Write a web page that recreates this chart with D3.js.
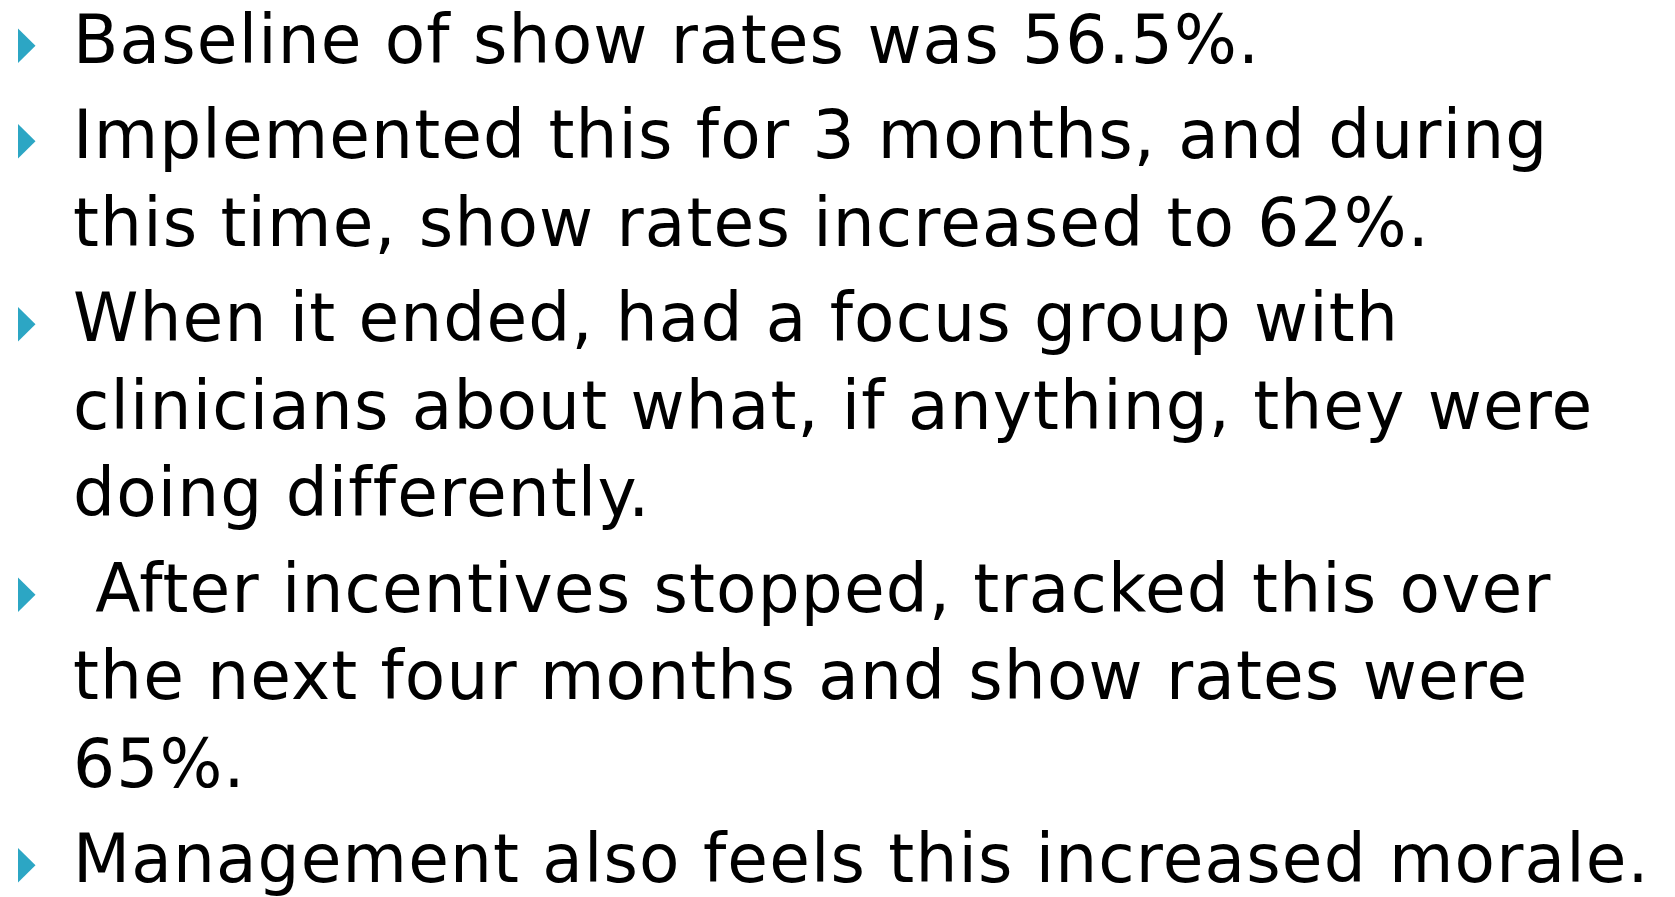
<!DOCTYPE html>
<html>
<head>
<meta charset="utf-8">
<script src="https://cdn.jsdelivr.net/npm/d3@7"></script>
<style>
  html, body { margin: 0; padding: 0; background: #fff; }
  svg { display: block; }
  text { white-space: pre; font-variant-ligatures: none; font-feature-settings: "liga" 0; }
</style>
</head>
<body>
<svg id="slide" width="1675" height="897"></svg>
<script>
// Slide content: bullets, each with its wrapped lines
const bullet1 = ["Baseline of show rates was 56.5%."];
const bullet2 = ["Implemented this for 3 months, and during", "this time, show rates increased to 62%."];
const bullet3 = ["When it ended, had a focus group with", "clinicians about what, if anything, they were", "doing differently."];
const bullet4 = [" After incentives stopped, tracked this over", "the next four months and show rates were", "65%."];
const bullet5 = ["Management also feels this increased morale."];
const bullets = [bullet1, bullet2, bullet3, bullet4, bullet5];

const W = 1675, H = 897;
const fontSize = 68.5;
const letterSpacing = 1.2;
const lineStep = 87.5, paraStep = 95.5;
const firstBaseline = 63;
const textX = 73, bulletX = 18;
const targetWidth = 1577; // width of the longest line in the reference

const svg = d3.select("#slide");

// compute baselines
const lines = [];
let y = firstBaseline;
bullets.forEach((b, bi) => {
  if (bi > 0) y += paraStep - lineStep;
  b.forEach((t, li) => {
    lines.push({ text: t, y: y, first: li === 0 });
    y += lineStep;
  });
});

const g = svg.append("g");
const texts = g.selectAll("text.line").data(lines).join("text")
  .attr("class", "line")
  .attr("x", 0)
  .attr("y", d => d.y)
  .attr("font-family", "'DejaVu Sans', sans-serif")
  .attr("font-size", fontSize)
  .attr("letter-spacing", letterSpacing)
  .attr("fill", "#000")
  .text(d => d.text);

// horizontal fit factor so the longest line matches the reference width
let maxW = 0;
texts.each(function() { maxW = Math.max(maxW, this.getComputedTextLength()); });
const sx = targetWidth / maxW;
texts.attr("transform", `translate(${textX},0) scale(${sx},1)`);

// bullet triangles
svg.selectAll("path.bullet").data(lines.filter(d => d.first)).join("path")
  .attr("class", "bullet")
  .attr("d", d => `M${bulletX},${d.y - 34.5} L${bulletX + 17.5},${d.y - 17.25} L${bulletX},${d.y} Z`)
  .attr("fill", "#2CA6C4");
</script>
</body>
</html>
